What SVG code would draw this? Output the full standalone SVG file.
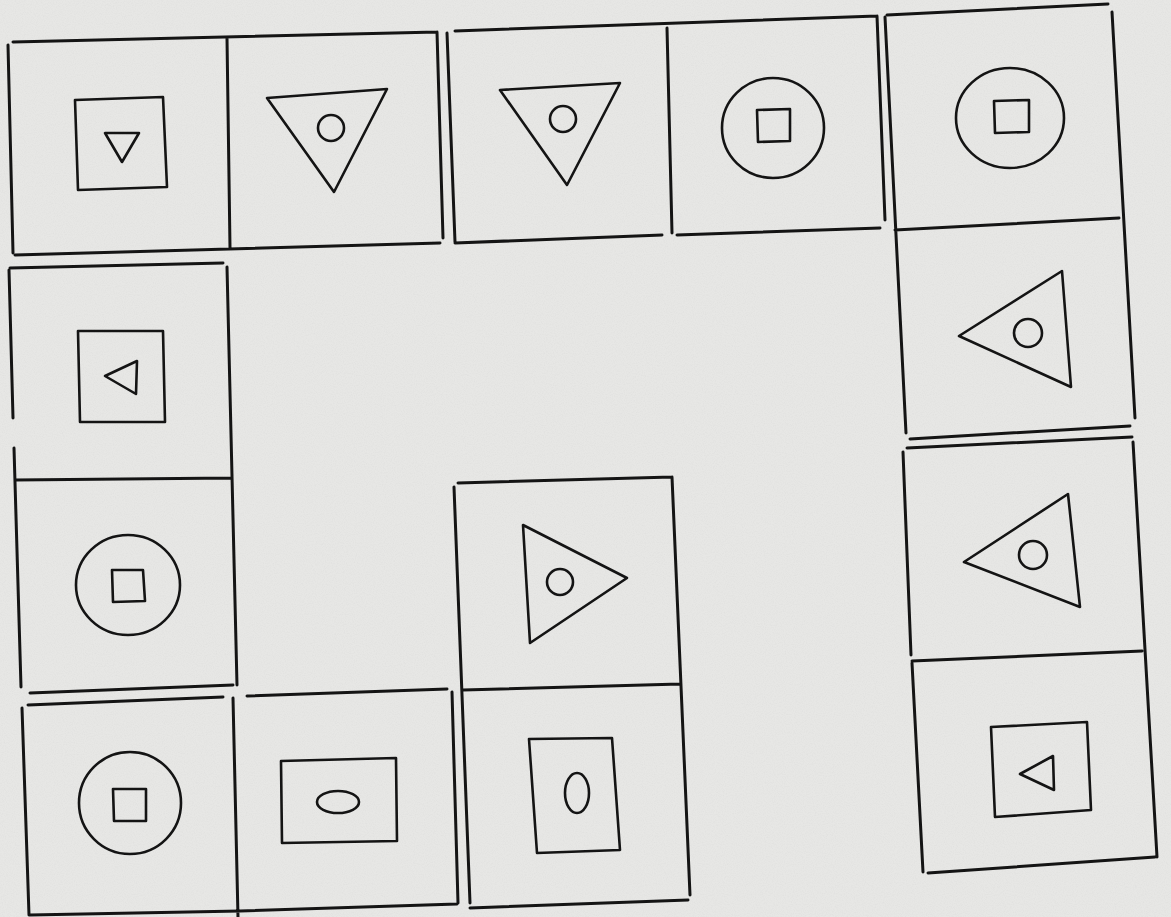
<svg xmlns="http://www.w3.org/2000/svg" width="1171" height="917" viewBox="0 0 1171 917">
<defs>
<style>
.ln{fill:none;stroke:#141414;stroke-width:3;stroke-linecap:round;stroke-linejoin:round}
.sh{fill:none;stroke:#141414;stroke-width:2.6;stroke-linecap:round;stroke-linejoin:round}
</style>
<filter id="grain" x="0" y="0" width="100%" height="100%">
<feTurbulence type="fractalNoise" baseFrequency="0.9" numOctaves="2" seed="3" result="n"/>
<feColorMatrix type="matrix" values="0 0 0 0 0.55  0 0 0 0 0.55  0 0 0 0 0.55  0 0 0 0.9 -0.35"/>
</filter>
</defs>
<rect width="1171" height="917" fill="#e7e7e5"/>
<rect width="1171" height="917" filter="url(#grain)" opacity="0.35"/>

<g id="domino-top-left">
<path class="ln" d="M13,42 L437,32 M8,45 L13,253 M15,255 L440,243 M437,32 L443,238 M227,38 L230,248"/>
<path class="sh" d="M75,100 L163,97 L167,187 L78,190 Z"/>
<path class="sh" d="M105,133 L139,133 L122,162 Z"/>
<path class="sh" d="M267,98 L387,89 L334,192 Z"/>
<circle class="sh" cx="331" cy="128" r="13"/>
</g>

<g id="domino-top-middle">
<path class="ln" d="M455,31 L877,16 M447,33 L455,242 M455,243 L662,235 M677,235 L880,228 M877,16 L885,220 M667,28 L672,233"/>
<path class="sh" d="M500,90 L620,83 L567,185 Z"/>
<circle class="sh" cx="563" cy="119" r="13"/>
<ellipse class="sh" cx="773" cy="128" rx="51" ry="50"/>
<path class="sh" d="M757,110 L790,109 L790,141 L758,142 Z"/>
</g>

<g id="domino-top-right">
<path class="ln" d="M887,15 L1108,4 M885,17 L906,433 M1112,12 L1135,418 M910,439 L1130,426 M895,230 L1119,218"/>
<ellipse class="sh" cx="1010" cy="118" rx="54" ry="50"/>
<path class="sh" d="M994,101 L1029,100 L1029,132 L995,133 Z"/>
<path class="sh" d="M959,336 L1062,271 L1071,387 Z"/>
<circle class="sh" cx="1028" cy="333" r="14"/>
</g>

<g id="domino-left">
<path class="ln" d="M10,268 L223,263 M9,270 L13,418 M14,448 L21,687 M227,267 L237,685 M15,480 L232,478 M30,693 L233,685"/>
<path class="sh" d="M78,331 L163,331 L165,422 L80,422 Z"/>
<path class="sh" d="M105,376 L137,361 L136,394 Z"/>
<ellipse class="sh" cx="128" cy="585" rx="52" ry="50"/>
<path class="sh" d="M112,570 L143,570 L145,601 L113,602 Z"/>
</g>

<g id="domino-center">
<path class="ln" d="M458,483 L672,477 M454,487 L470,903 M672,477 L690,895 M470,908 L688,900 M463,690 L680,684"/>
<path class="sh" d="M523,525 L627,578 L530,643 Z"/>
<circle class="sh" cx="560" cy="582" r="13"/>
<path class="sh" d="M529,739 L612,738 L620,850 L537,853 Z"/>
<ellipse class="sh" cx="577" cy="793" rx="12" ry="20"/>
</g>

<g id="domino-bottom-left">
<path class="ln" d="M28,705 L223,697 M247,696 L447,689 M22,708 L29,915 M233,698 L238,917 M452,692 L458,903 M30,915 L240,911 L457,904"/>
<ellipse class="sh" cx="130" cy="803" rx="51" ry="51"/>
<path class="sh" d="M113,789 L146,789 L146,821 L114,821 Z"/>
<path class="sh" d="M281,761 L396,758 L397,841 L282,843 Z"/>
<ellipse class="sh" cx="338" cy="802" rx="21" ry="11"/>
</g>

<g id="domino-bottom-right">
<path class="ln" d="M907,448 L1132,437 M903,452 L911,655 M912,663 L923,872 M1133,442 L1157,857 M928,873 L1155,857 M912,661 L1142,651"/>
<path class="sh" d="M964,562 L1068,494 L1080,607 Z"/>
<circle class="sh" cx="1033" cy="555" r="14"/>
<path class="sh" d="M991,727 L1087,722 L1091,810 L995,817 Z"/>
<path class="sh" d="M1020,774 L1053,756 L1054,790 Z"/>
</g>

<g id="connectors"/>
</svg>
